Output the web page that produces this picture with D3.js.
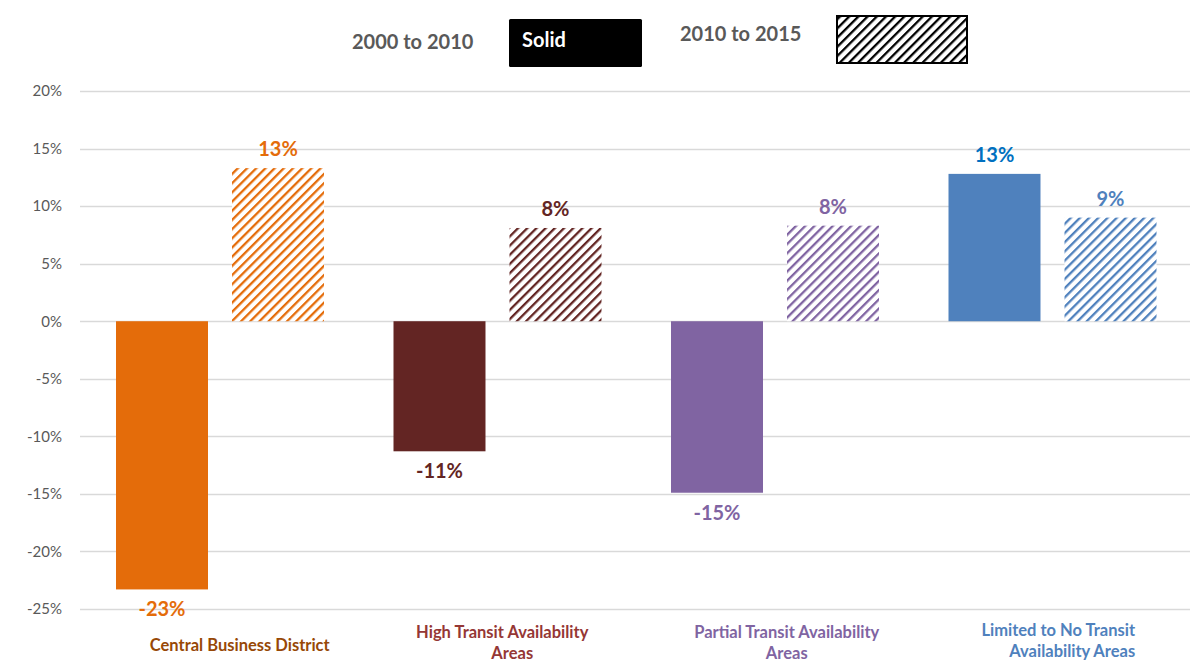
<!DOCTYPE html>
<html><head><meta charset="utf-8">
<script src="https://cdn.jsdelivr.net/npm/d3@7"></script>
<style>body{margin:0;background:#fff}svg{display:block}text{font-family:Lato,"Open Sans",sans-serif}</style>
</head><body>
<script>
const categories = [["Central Business District"],["High Transit Availability","Areas"],["Partial Transit Availability","Areas"],["Limited to No Transit","Availability Areas"]];
const series2000_2010 = [-23.3, -11.3, -14.9, 12.8];
const series2010_2015 = [13.3, 8.1, 8.3, 9.0];
const labels2000_2010 = ["-23%","-11%","-15%","13%"];
const labels2010_2015 = ["13%","8%","8%","9%"];
const yTicks = [20,15,10,5,0,-5,-10,-15,-20,-25];
const barColors = ["#E46C0A","#632523","#8064A2","#4F81BD"];
const solidLabelColors = ["#E46C0A","#632523","#8064A2","#0070C0"];
const hatchLabelColors = ["#E46C0A","#632523","#8064A2","#4F81BD"];
const catColors = ["#974806","#953735","#8064A2","#4F81BD"];
const legendLabels = ["2000 to 2010","Solid","2010 to 2015"];

const W=1193,H=664;
const svg=d3.select("body").append("svg").attr("width",W).attr("height",H);
const defs=svg.append("defs");
function hatch(id,color){
  const p=defs.append("pattern").attr("id",id).attr("patternUnits","userSpaceOnUse")
    .attr("width",6.5).attr("height",6.5).attr("patternTransform","rotate(45)");
  p.append("rect").attr("width",6.5).attr("height",6.5).attr("fill","#fff");
  p.append("rect").attr("x",0).attr("y",0).attr("width",2.3).attr("height",6.5).attr("fill",color);
}
barColors.forEach((c,i)=>hatch("h"+i,c));
hatch("hk","#000");

const x0=80,x1=1190;
const y=d3.scaleLinear().domain([-25,20]).range([609,91]);
const x=d3.scaleBand().domain(d3.range(4)).range([x0,x1]);
const inner=d3.scaleBand().domain([0,1]).range([36,244]).paddingInner(0.207);
const catOffsets=[[21],[6,16],[13,13],[7,21]];

// gridlines
svg.append("g").selectAll("line").data(yTicks).join("line")
  .attr("x1",x0).attr("x2",x1).attr("y1",d=>Math.round(y(d))+0.5).attr("y2",d=>Math.round(y(d))+0.5)
  .attr("stroke","#d9d9d9").attr("stroke-width",1.3);
const yAxis=d3.axisLeft(y).tickValues(yTicks).tickFormat(d=>d+"%").tickSize(0).tickPadding(0);
const ga=svg.append("g").attr("transform","translate(62,0)").call(yAxis);
ga.select(".domain").remove();
ga.selectAll("text").attr("fill","#595959").attr("font-size",15).attr("font-family","'Open Sans',sans-serif");

const g=svg.append("g");
categories.forEach((c,i)=>{
  const bx=x(i);
  const v1=series2000_2010[i], v2=series2010_2015[i];
  const xa=bx+inner(0), xb=bx+inner(1), bw=inner.bandwidth();
  g.append("rect").attr("x",xa).attr("width",bw).attr("y",y(Math.max(0,v1))).attr("height",Math.abs(y(v1)-y(0))).attr("fill",barColors[i]);
  g.append("rect").attr("x",xb).attr("width",bw).attr("y",y(Math.max(0,v2))).attr("height",Math.abs(y(v2)-y(0))).attr("fill",`url(#h${i})`);
  const ly1 = v1<0 ? y(v1)+27 : y(v1)-12;
  g.append("text").attr("x",xa+bw/2).attr("y",ly1).attr("text-anchor","middle").attr("font-weight","bold").attr("font-size",20).attr("fill",solidLabelColors[i]).text(labels2000_2010[i]);
  g.append("text").attr("x",xb+bw/2).attr("y",y(v2)-12).attr("text-anchor","middle").attr("font-weight","bold").attr("font-size",20).attr("fill",hatchLabelColors[i]).text(labels2010_2015[i]);
  const startY = c.length===1 ? 651 : (i===3? 636: 638);
  c.forEach((line,k)=>{
    const cx=bx+x.bandwidth()/2+catOffsets[i][k];
    g.append("text").attr("x",cx).attr("y",startY+k*21).attr("text-anchor","middle").attr("font-weight","bold").attr("font-size",16.5).attr("fill",catColors[i]).text(line);
  });
});

// legend
const lg=svg.append("g");
lg.append("text").attr("x",352).attr("y",49).attr("font-weight","bold").attr("font-size",20).attr("fill","#595959").text(legendLabels[0]);
lg.append("rect").attr("x",509).attr("y",19).attr("width",133).attr("height",48).attr("rx",1.5).attr("fill","#000");
lg.append("text").attr("x",522).attr("y",47).attr("font-weight","bold").attr("font-size",20).attr("fill","#fff").text(legendLabels[1]);
lg.append("text").attr("x",680).attr("y",41).attr("font-weight","bold").attr("font-size",20).attr("fill","#595959").text(legendLabels[2]);
lg.append("rect").attr("x",837).attr("y",16).attr("width",130).attr("height",47).attr("fill","url(#hk)").attr("stroke","#000").attr("stroke-width",2);
</script>
</body></html>
